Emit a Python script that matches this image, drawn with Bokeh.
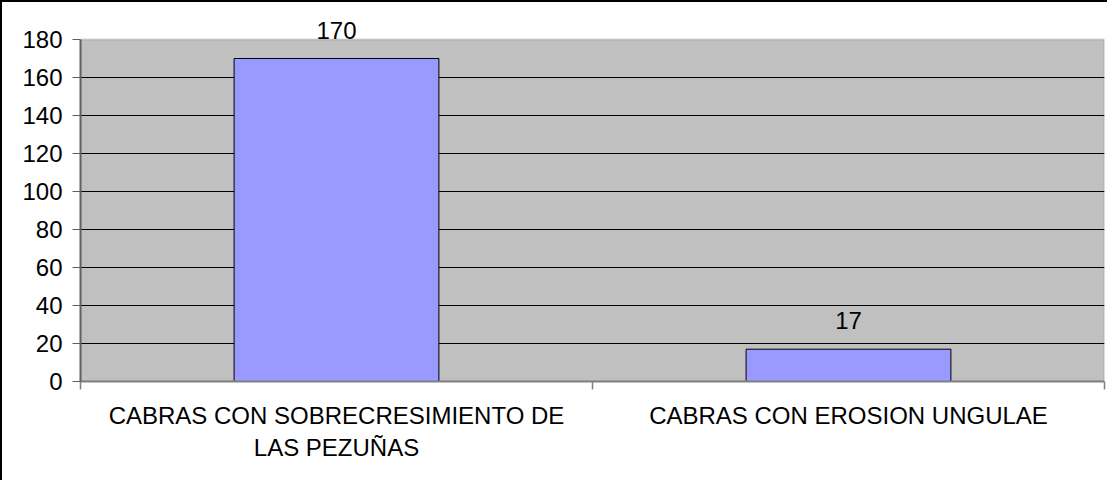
from bokeh.plotting import figure
from bokeh.models import ColumnDataSource, FixedTicker, LabelSet, Range1d, BoxAnnotation
from bokeh.core.properties import value
from bokeh.embed import file_html
from bokeh.resources import INLINE

categories = ["CABRAS CON SOBRECRESIMIENTO DE\nLAS PEZUÑAS", "CABRAS CON EROSION UNGULAE"]
values = [170, 17]
y_ticks = [0, 20, 40, 60, 80, 100, 120, 140, 160, 180]

FONT = "Liberation Sans"
FS = "24px"

positions = [i + 0.5 for i in range(len(categories))]
boundaries = [float(i) for i in range(len(categories) + 1)]
y_max = y_ticks[-1]

# layout: plot area 342 px tall for 0..180, extra headroom (27 px) for the value labels
area_h = 342
head = 27
frame_h = area_h + head
y_end = y_max * frame_h / area_h

source = ColumnDataSource(dict(x=positions, top=values, label=[str(v) for v in values]))

p = figure(
    width=1107, height=480,
    x_range=Range1d(0, len(categories)), y_range=Range1d(0, y_end),
    output_backend="svg", toolbar_location=None,
    min_border_left=78, min_border_top=10, min_border_right=5, min_border_bottom=101,
)
p.styles = {"border-left": "2px solid black", "border-top": "2px solid black"}

p.background_fill_color = "white"
p.border_fill_color = "white"
p.outline_line_color = None

# gray plot area
area = BoxAnnotation(left=0, right=len(categories), bottom=0, top=y_max,
                     fill_color="#C0C0C0", fill_alpha=1.0,
                     line_color="#808080", line_width=2, level="image")
p.add_layout(area)

p.vbar(x="x", top="top", width=0.4, source=source,
       fill_color="#9999FF", line_color="black", line_width=1)

labels = LabelSet(x="x", y="top", text="label", source=source,
                  text_align="center", text_baseline="alphabetic", y_offset=20,
                  text_font=value(FONT), text_font_size=FS, text_color="black")
p.add_layout(labels)

# grid
p.xgrid.visible = False
p.ygrid.ticker = FixedTicker(ticks=y_ticks[1:-1])
p.ygrid.grid_line_color = "black"
p.ygrid.grid_line_width = 1

# y axis
p.yaxis.ticker = FixedTicker(ticks=y_ticks)
p.yaxis.bounds = (0, y_max)
p.yaxis.axis_line_color = "#606060"
p.yaxis.axis_line_width = 2
p.yaxis.major_tick_line_color = "#606060"
p.yaxis.major_tick_out = 8
p.yaxis.major_tick_in = 0
p.yaxis.minor_tick_line_color = None
p.yaxis.major_label_standoff = 10
p.yaxis.major_label_text_font = FONT
p.yaxis.major_label_text_font_size = FS
p.yaxis.major_label_text_color = "black"

# x axis
p.xaxis.ticker = FixedTicker(ticks=positions, minor_ticks=boundaries)
p.xaxis.major_label_overrides = {pos: cat for pos, cat in zip(positions, categories)}
p.xaxis.axis_line_color = "#808080"
p.xaxis.axis_line_width = 2
p.xaxis.major_tick_line_color = None
p.xaxis.major_tick_out = 0
p.xaxis.major_tick_in = 0
p.xaxis.minor_tick_line_color = "#808080"
p.xaxis.minor_tick_out = 8
p.xaxis.minor_tick_in = 0
p.xaxis.minor_tick_line_width = 1.5
p.xaxis.major_label_standoff = 12
p.xaxis.major_label_text_font = FONT
p.xaxis.major_label_text_font_size = FS
p.xaxis.major_label_text_color = "black"

open("out.html", "w").write(file_html(p, INLINE))
